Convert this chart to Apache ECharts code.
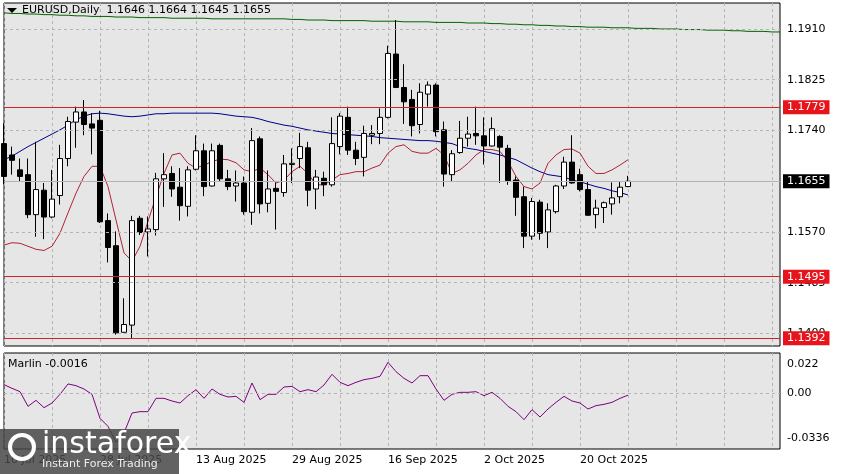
<!DOCTYPE html>
<html><head><meta charset="utf-8">
<script src="https://cdn.jsdelivr.net/npm/echarts@6/dist/echarts.min.js"></script>
<style>html,body{margin:0;padding:0;background:#fff}#c{width:841px;height:474px}</style>
</head><body><div id="c"></div>
<script>
// OHLC (open, close, low, high)
const opens  = [1.1718,1.1699,1.1674,1.1666,1.1599,1.1640,1.1595,1.1631,1.1693,1.1754,1.1771,1.1751,1.1757,1.1589,1.1547,1.1402,1.1414,1.1593,1.1570,1.1574,1.1659,1.1668,1.1645,1.1613,1.1675,1.1706,1.1647,1.1715,1.1659,1.1647,1.1652,1.1603,1.1726,1.1618,1.1643,1.1636,1.1683,1.1693,1.1711,1.1642,1.1660,1.1649,1.1713,1.1762,1.1707,1.1695,1.1732,1.1735,1.1762,1.1868,1.1812,1.1792,1.1750,1.1801,1.1816,1.1741,1.1666,1.1703,1.1727,1.1735,1.1731,1.1714,1.1730,1.1710,1.1657,1.1629,1.1563,1.1620,1.1570,1.1604,1.1647,1.1687,1.1666,1.1641,1.1599,1.1611,1.1617,1.1629,1.1646];
const closes = [1.1663,1.1690,1.1663,1.1599,1.1641,1.1595,1.1625,1.1693,1.1755,1.1771,1.1750,1.1744,1.1587,1.1544,1.1401,1.1415,1.1589,1.1569,1.1575,1.1659,1.1666,1.1642,1.1614,1.1674,1.1706,1.1646,1.1706,1.1659,1.1646,1.1652,1.1604,1.1723,1.1617,1.1642,1.1638,1.1684,1.1685,1.1713,1.1640,1.1662,1.1649,1.1718,1.1764,1.1707,1.1693,1.1735,1.1735,1.1762,1.1869,1.1812,1.1788,1.1748,1.1804,1.1816,1.1738,1.1667,1.1701,1.1727,1.1734,1.1731,1.1714,1.1743,1.1712,1.1656,1.1628,1.1563,1.1621,1.1568,1.1607,1.1647,1.1687,1.1652,1.1641,1.1598,1.1610,1.1619,1.1627,1.1645,1.1655];
const highs  = [1.1752,1.1713,1.1693,1.1693,1.1721,1.1652,1.1674,1.1716,1.1763,1.1780,1.1791,1.1769,1.1773,1.1601,1.1571,1.1459,1.1597,1.1597,1.1596,1.1669,1.1702,1.1680,1.1677,1.1680,1.1732,1.1718,1.1718,1.1718,1.1674,1.1673,1.1663,1.1744,1.1730,1.1673,1.1652,1.1699,1.1710,1.1736,1.1721,1.1674,1.1671,1.1762,1.1769,1.1780,1.1721,1.1748,1.1749,1.1777,1.1882,1.1925,1.1851,1.1808,1.1819,1.1822,1.1819,1.1755,1.1707,1.1756,1.1763,1.1780,1.1762,1.1762,1.1732,1.1716,1.1663,1.1646,1.1627,1.1624,1.1618,1.1649,1.1696,1.1732,1.1676,1.1655,1.1624,1.1621,1.1653,1.1655,1.1664];
const lows   = [1.1650,1.1666,1.1655,1.1593,1.1562,1.1558,1.1593,1.1616,1.1680,1.1711,1.1732,1.1700,1.1585,1.1519,1.1398,1.1401,1.1391,1.1565,1.1529,1.1564,1.1612,1.1629,1.1589,1.1596,1.1673,1.1630,1.1646,1.1655,1.1640,1.1621,1.1599,1.1582,1.1601,1.1603,1.1574,1.1629,1.1652,1.1677,1.1613,1.1608,1.1630,1.1646,1.1700,1.1699,1.1682,1.1663,1.1717,1.1717,1.1760,1.1811,1.1751,1.1730,1.1735,1.1780,1.1730,1.1646,1.1655,1.1701,1.1713,1.1716,1.1683,1.1713,1.1652,1.1649,1.1597,1.1543,1.1557,1.1557,1.1543,1.1601,1.1642,1.1651,1.1638,1.1597,1.1576,1.1585,1.1599,1.1618,1.1645];
const blueMA = [1.1691,1.1697,1.1705,1.1713,1.1720,1.1727,1.1734,1.1741,1.1749,1.1758,1.1764,1.1768,1.1769,1.1768,1.1766,1.1764,1.1763,1.1764,1.1766,1.1768,1.1768,1.1769,1.1769,1.1769,1.1769,1.1769,1.1769,1.1768,1.1766,1.1764,1.1763,1.1762,1.1759,1.1755,1.1752,1.1749,1.1747,1.1744,1.1741,1.1739,1.1737,1.1735,1.1734,1.1733,1.1732,1.1731,1.1730,1.1728,1.1727,1.1726,1.1725,1.1724,1.1723,1.1723,1.1722,1.1720,1.1718,1.1713,1.1710,1.1708,1.1705,1.1702,1.1699,1.1695,1.1691,1.1684,1.1677,1.1671,1.1666,1.1664,1.1662,1.1657,1.1654,1.1650,1.1646,1.1643,1.1639,1.1636,1.1632];
const redMA = [1.1548,1.1552,1.1551,1.1546,1.1541,1.1539,1.1546,1.1568,1.1602,1.1635,1.1663,1.1680,1.1680,1.1646,1.1590,1.1535,1.1521,1.1546,1.1588,1.1629,1.1668,1.1699,1.1702,1.1685,1.1677,1.1682,1.1688,1.1692,1.1691,1.1686,1.1674,1.1671,1.1677,1.1666,1.1652,1.1657,1.1671,1.1680,1.1668,1.1649,1.1649,1.1657,1.1666,1.1668,1.1671,1.1671,1.1677,1.1682,1.1702,1.1713,1.1716,1.1705,1.1702,1.1702,1.1710,1.1699,1.1668,1.1674,1.1685,1.1699,1.1708,1.1708,1.1705,1.1688,1.1663,1.1646,1.1642,1.1652,1.1685,1.1699,1.1708,1.1709,1.1702,1.1680,1.1668,1.1668,1.1674,1.1682,1.1691];
const greenMA = [1.1937,1.1936,1.1936,1.1935,1.1935,1.1934,1.1934,1.1933,1.1933,1.1932,1.1932,1.1931,1.1931,1.1931,1.1930,1.1930,1.1930,1.1929,1.1929,1.1929,1.1929,1.1928,1.1928,1.1928,1.1928,1.1928,1.1927,1.1927,1.1927,1.1927,1.1927,1.1927,1.1927,1.1927,1.1927,1.1927,1.1926,1.1926,1.1925,1.1925,1.1925,1.1924,1.1924,1.1924,1.1924,1.1924,1.1923,1.1923,1.1923,1.1923,1.1922,1.1922,1.1922,1.1922,1.1921,1.1921,1.1921,1.1921,1.1920,1.1920,1.1920,1.1919,1.1919,1.1918,1.1918,1.1917,1.1917,1.1916,1.1916,1.1915,1.1915,1.1914,1.1914,1.1913,1.1913,1.1913,1.1912,1.1912,1.1912,1.1911,1.1911,1.1911,1.1910,1.1910,1.1910,1.1909,1.1909,1.1909,1.1908,1.1908,1.1908,1.1907,1.1907,1.1906,1.1906,1.1906,1.1905,1.1905];
const marlin = [0.0063,0.0035,0.0010,-0.0100,-0.0055,-0.0110,-0.0075,-0.0010,0.0068,0.0055,0.0030,-0.0010,-0.0190,-0.0250,-0.0370,-0.0300,-0.0150,-0.0140,-0.0140,-0.0040,-0.0040,-0.0060,-0.0075,-0.0020,0.0025,-0.0040,0.0030,-0.0010,-0.0030,-0.0025,-0.0070,0.0075,-0.0050,-0.0010,-0.0010,0.0045,0.0050,0.0010,0.0025,0.0010,0.0060,0.0140,0.0080,0.0055,0.0080,0.0100,0.0110,0.0125,0.0230,0.0160,0.0110,0.0075,0.0130,0.0130,0.0030,-0.0055,-0.0010,0.0005,0.0005,0.0010,-0.0020,0.0005,-0.0040,-0.0100,-0.0140,-0.0200,-0.0125,-0.0180,-0.0120,-0.0070,-0.0025,-0.0060,-0.0075,-0.0120,-0.0095,-0.0085,-0.0070,-0.0040,-0.0016];
const priceTicks = [1.1400,1.1485,1.1570,1.1740,1.1825,1.1910];
const levels = [1.1779,1.1495,1.1392];
const lastPrice = 1.1655;
const marlinTicks = [0.022,0.00,-0.0336];
const startDate = '2025-07-10';
const nSlots = 98;
const lastLabelIndex = 72;
const MONTHS = ['Jan','Feb','Mar','Apr','May','Jun','Jul','Aug','Sep','Oct','Nov','Dec'];

const dates = [];
let d = new Date(startDate + 'T00:00:00Z');
while (dates.length < nSlots) {
  const wd = d.getUTCDay();
  if (wd !== 0 && wd !== 6) dates.push(d.getUTCDate() + ' ' + MONTHS[d.getUTCMonth()] + ' ' + d.getUTCFullYear());
  d = new Date(d.getTime() + 86400000);
}
const ohlc = opens.map((o, i) => [o, closes[i], lows[i], highs[i]]);
const FONT = 'DejaVu Sans';
const vSplit = {show:true, interval:(i)=> i % 6 === 0, lineStyle:{color:'#b4b4b4', type:[3,3]}};

const chart = echarts.init(document.getElementById('c'));
chart.setOption({
  animation:false,
  backgroundColor:'#fff',
  grid:[
    {left:4, top:3, width:776, height:343, show:true, backgroundColor:'#e6e6e6', borderColor:'#000', borderWidth:1},
    {left:4, top:353, width:776, height:96, show:true, backgroundColor:'#e6e6e6', borderColor:'#000', borderWidth:1}
  ],
  xAxis:[
    {type:'category', data:dates, gridIndex:0, boundaryGap:false, axisLine:{show:false}, axisTick:{show:false}, axisLabel:{show:false}, splitLine:vSplit},
    {type:'category', data:dates, gridIndex:1, boundaryGap:false, axisLine:{show:false}, axisTick:{show:false}, splitLine:vSplit,
     axisLabel:{interval:(i)=> i % 12 === 0 && i <= lastLabelIndex, align:'left', color:'#000', fontFamily:FONT, fontSize:11, margin:6}}
  ],
  yAxis:[
    {type:'value', gridIndex:0, min:1.1379, max:1.19535, position:'right', axisLine:{show:false}, axisTick:{show:false}, axisLabel:{show:false}, splitLine:{show:false}},
    {type:'value', gridIndex:1, min:-0.042, max:0.030, position:'right', axisLine:{show:false}, axisTick:{show:false}, axisLabel:{show:false}, splitLine:{show:false}}
  ],
  series:[
    {type:'line', xAxisIndex:0, yAxisIndex:0, data:greenMA, symbol:'none', lineStyle:{color:'#006400', width:1}, z:2,
     markLine:{silent:true, symbol:'none', animation:false, precision:4,
       lineStyle:{color:'#b4b4b4', type:[3,3], width:1},
       label:{position:'end', distance:7, color:'#000', fontFamily:FONT, fontSize:11, formatter:(p)=>Number(p.value).toFixed(4)},
       data:priceTicks.map(v=>({yAxis:v}))}},
    {type:'line', xAxisIndex:0, yAxisIndex:0, data:blueMA, symbol:'none', lineStyle:{color:'#00008b', width:1}, z:3},
    {type:'line', xAxisIndex:0, yAxisIndex:0, data:redMA, symbol:'none', lineStyle:{color:'#b22234', width:1}, z:3},
    {type:'candlestick', xAxisIndex:0, yAxisIndex:0, data:ohlc, barWidth:5, z:4,
     itemStyle:{color:'#fff', color0:'#000', borderColor:'#000', borderColor0:'#000', borderWidth:1},
     markLine:{silent:true, symbol:'none', animation:false, precision:4, z:5,
       data:[
         ...levels.map(v=>({yAxis:v, lineStyle:{color:'#d0202a', type:'solid', width:1},
            label:{position:'end', distance:3, color:'#fff', backgroundColor:'#e8141c', padding:[2,4,1,4], fontFamily:FONT, fontSize:11, formatter:(p)=>Number(p.value).toFixed(4)}})),
         {yAxis:lastPrice, lineStyle:{color:'#b4b4b4', type:'solid', width:1},
            label:{position:'end', distance:3, color:'#fff', backgroundColor:'#000', padding:[2,4,1,4], fontFamily:FONT, fontSize:11, formatter:(p)=>Number(p.value).toFixed(4)}}
       ]}},
    {type:'line', xAxisIndex:1, yAxisIndex:1, data:marlin, symbol:'none', lineStyle:{color:'#800080', width:1},
     markLine:{silent:true, symbol:'none', animation:false, precision:4,
       label:{position:'end', distance:7, color:'#000', fontFamily:FONT, fontSize:11, formatter:(p)=> Number(p.value)===0 ? '0.00' : String(Number(p.value))},
       data:marlinTicks.map(v=>({yAxis:v, lineStyle:{color: v===0 ? '#b4b4b4' : 'rgba(0,0,0,0)', type:[3,3], width:1}}))}}
  ],
  graphic:[
    {type:'polygon', shape:{points:[[7,8],[17,8],[12,13]]}, style:{fill:'#000'}, z:10},
    {type:'text', left:22, top:5, style:{text:'EURUSD,Daily  1.1646 1.1664 1.1645 1.1655', fill:'#000', font:'11px "DejaVu Sans"'}, z:10},
    {type:'text', left:8, top:359, style:{text:'Marlin -0.0016', fill:'#000', font:'11px "DejaVu Sans"'}, z:10},
    {type:'rect', shape:{x:0, y:429, width:179, height:45}, style:{fill:'rgba(70,70,70,0.85)'}, z:20},
    {type:'circle', shape:{cx:22, cy:447, r:12}, style:{fill:'none', stroke:'#fff', lineWidth:4}, z:21},
    {type:'text', left:42, top:430, style:{text:'instaforex', fill:'#fff', font:'30px "DejaVu Sans"'}, z:21},
    {type:'text', left:42, top:459, style:{text:'Instant Forex Trading', fill:'#eee', font:'11px "DejaVu Sans"'}, z:21}
  ]
});
</script></body></html>
